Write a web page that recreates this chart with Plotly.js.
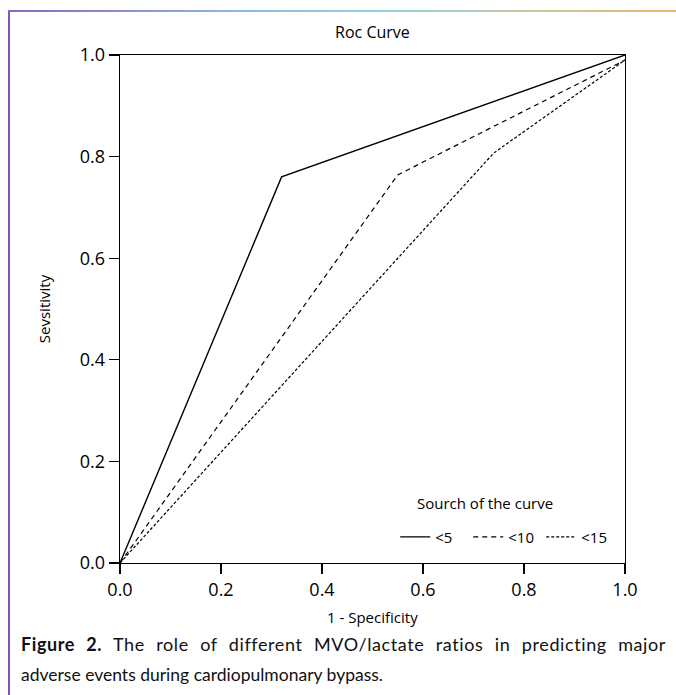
<!DOCTYPE html>
<html>
<head>
<meta charset="utf-8">
<script src="https://cdn.plot.ly/plotly-3.0.1.min.js"></script>
<style>
  html, body { margin: 0; padding: 0; background: #fff; }
  #wrap { position: relative; width: 676px; height: 695px; overflow: hidden; }
  #chart { position: absolute; left: 0; top: 0; width: 676px; height: 695px; }
  #leftbar { position: absolute; left: 8px; top: 10px; width: 2px; height: 685px; background: #7d57b8; }
  #topbar { position: absolute; left: 8px; top: 10px; width: 668px; height: 2px;
            background: linear-gradient(to right, #8a66c2 0%, #8fb8e0 35%, #8fd3df 55%, #c9c99a 80%, #e8b56a 100%); }
  .cap { position: absolute; left: 21px; font-family: Lato, "Open Sans", sans-serif; font-size: 17.5px; color: #111; white-space: nowrap; }
  #cap1 { top: 633px; width: 645px; font-size: 18px; text-align: justify; text-align-last: justify; white-space: normal; letter-spacing: 0.6px; }
  #cap2 { top: 664px; }
</style>
</head>
<body>
<div id="wrap">
  <div id="chart"></div>
  <div id="leftbar"></div>
  <div id="topbar"></div>
  <div class="cap" id="cap1"><b>Figure 2.</b> The role of different MVO/lactate ratios in predicting major</div>
  <div class="cap" id="cap2">adverse events during cardiopulmonary bypass.</div>
</div>
<script>
// ROC points (1 - Specificity, Sensitivity)
const seriesNames = ['<5', '<10', '<15'];
const fpr_lt5  = [0, 0.32, 1.0];
const tpr_lt5  = [0, 0.76, 1.0];
const fpr_lt10 = [0, 0.55, 1.0];
const tpr_lt10 = [0, 0.764, 0.99];
const fpr_lt15 = [0, 0.74, 1.0];
const tpr_lt15 = [0, 0.807, 0.99];
const tickVals = [0, 0.2, 0.4, 0.6, 0.8, 1.0];
const tickText = ['0.0', '0.2', '0.4', '0.6', '0.8', '1.0'];
const legendTitle = 'Sourch of the curve';
const xTitle = '1 - Specificity';
const yTitle = 'Sevsitivity';

const FONT = 'Open Sans, sans-serif';

const traces = [
  {x: fpr_lt5, y: tpr_lt5, name: seriesNames[0], mode: 'lines', line: {color: '#000', width: 1.4}},
  {x: fpr_lt10, y: tpr_lt10, name: seriesNames[1], mode: 'lines', line: {color: '#000', width: 1.2, dash: '5px,4px'}},
  {x: fpr_lt15, y: tpr_lt15, name: seriesNames[2], mode: 'lines', line: {color: '#000', width: 1.2, dash: '3px,2px'}}
];

const layout = {
  width: 676, height: 695,
  margin: {l: 120, r: 51, t: 55, b: 132},
  paper_bgcolor: 'rgba(0,0,0,0)',
  plot_bgcolor: '#fff',
  font: {family: FONT, color: '#000', size: 15},
  title: {text: 'Roc Curve', font: {family: FONT, size: 16, color: '#000'}, x: 0.551, xanchor: 'center', y: 0.953, yanchor: 'middle'},
  xaxis: {
    range: [0, 1], tickvals: tickVals, ticktext: tickText,
    showgrid: false, zeroline: false, showline: true, mirror: true, linecolor: '#000', linewidth: 1.3,
    ticks: 'outside', ticklen: 10, tickwidth: 1.3, tickcolor: '#000',
    tickfont: {family: FONT, size: 18, color: '#000'},
    fixedrange: true
  },
  yaxis: {
    range: [0, 1], tickvals: tickVals, ticktext: tickText,
    showgrid: false, zeroline: false, showline: true, mirror: true, linecolor: '#000', linewidth: 1.3,
    ticks: 'outside', ticklen: 10, tickwidth: 1.3, tickcolor: '#000',
    tickfont: {family: FONT, size: 18, color: '#000'},
    title: {text: yTitle, font: {family: FONT, size: 15, color: '#000'}, standoff: 25},
    fixedrange: true
  },
  showlegend: true,
  legend: {
    orientation: 'h', x: 0.545, xanchor: 'left', y: 0.051, yanchor: 'middle',
    bgcolor: 'rgba(255,255,255,0)', borderwidth: 0,
    entrywidth: 28, entrywidthmode: 'pixels',
    font: {family: FONT, size: 15, color: '#000'}
  },
  annotations: [
    {text: legendTitle, xref: 'paper', yref: 'paper', x: 0.584, y: 0.118, xanchor: 'left', yanchor: 'middle',
     showarrow: false, font: {family: FONT, size: 15, color: '#000'}},
    {text: xTitle, xref: 'paper', yref: 'paper', x: 0.5, y: -0.106, xanchor: 'center', yanchor: 'middle',
     showarrow: false, font: {family: FONT, size: 15, color: '#000'}}
  ]
};

Plotly.newPlot('chart', traces, layout, {displayModeBar: false, staticPlot: true});
</script>
</body>
</html>
